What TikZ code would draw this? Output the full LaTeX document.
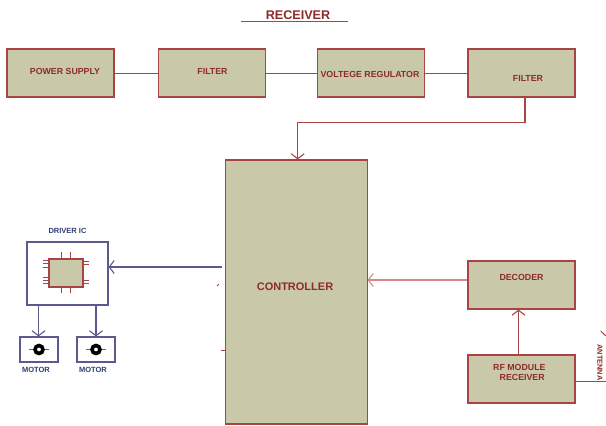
\documentclass[tikz,border=0pt]{standalone}
\usepackage{fontspec}
\setmainfont{Liberation Sans}
\usetikzlibrary{arrows.meta, positioning, calc}
\definecolor{blkfill}{HTML}{C9C9A9}
\definecolor{blkline}{HTML}{A84444}
\definecolor{txtred}{HTML}{8E2A2A}
\definecolor{pinkline}{HTML}{D08A8A}
\definecolor{navyline}{HTML}{5A5A8E}
\definecolor{navytxt}{HTML}{2F3F70}
\tikzset{
  blk/.style={draw=blkline, fill=blkfill, line width=1.1pt, minimum width=#1, minimum height=48pt, inner sep=0pt},
  blk/.default=107pt,
  txt/.style={text=txtred, font=\bfseries\fontsize{8.8}{10}\selectfont, inner sep=0pt, align=center},
  navytext/.style={text=navytxt, font=\bfseries\fontsize{7.5}{8}\selectfont, inner sep=0pt},
  whitebox/.style={draw=navyline, fill=white, line width=1.1pt, inner sep=0pt},
  arr/.style={-{Straight Barb[length=5pt,width=13pt]}, line width=1.1pt},
  wire/.style={draw=blkline, line width=1pt},
  pin/.style={draw=blkline, line width=1pt},
}
\begin{document}
\begin{tikzpicture}[x=1pt,y=-1pt]
  \useasboundingbox (0,0) rectangle (606,426);
  % title
  \node[txt, font=\bfseries\fontsize{12.6}{14}\selectfont] (title) at (298,15.5) {RECEIVER};
  \coordinate (ulinea) at (241,21);
  \coordinate (ulineb) at (348,21);
  \draw[wire] (ulinea) -- (ulineb);
  % top row
  \node[blk] (power) at (60.5,73) {};
  \node[blk] (filterone) at (212,73) {};
  \node[blk] (regulator) at (371,73) {};
  \node[blk] (filtertwo) at (521.5,73) {};
  \node[txt] (powertxt) at (65,71.5) {POWER SUPPLY};
  \node[txt] (filteronetxt) at (212.5,71.5) {FILTER};
  \node[txt] (regulatortxt) at (370,74) {VOLTEGE REGULATOR};
  \node[txt] (filtertwotxt) at (528,78) {FILTER};
  \draw[wire] (power) -- (filterone);
  \draw[wire] (filterone) -- (regulator);
  \draw[wire] (regulator) -- (filtertwo);
  % controller
  \node[blk=141.5pt, minimum height=264pt] (controller) at (296.3,292) {};
  \node[txt, font=\bfseries\fontsize{11}{12}\selectfont] (controllertxt) at (295,287) {CONTROLLER};
  \coordinate (ctrlout) at (222,267);
  \coordinate (stuba) at (221,350);
  \coordinate (ticka) at (217,286);
  \coordinate (tickb) at (219,284);
  \draw[wire] (stuba) -- (stuba -| controller.west);
  \draw[wire] (ticka) -- (tickb);
  \draw[wire, arr] ([xshift=3.5pt]filtertwo.south) |- ([xshift=1.4pt,yshift=37pt]controller.north) -- ([xshift=1.4pt]controller.north);
  % right side
  \node[blk] (decoder) at (521.5,285) {};
  \node[blk] (rfmodule) at (521.5,379) {};
  \node[txt] (decodertxt) at (521.5,277) {DECODER};
  \node[txt, anchor=west] (rftxt) at (493,367) {RF MODULE};
  \node[txt, anchor=west] (rftxtb) at (499.5,377.5) {RECEIVER};
  \coordinate (decout) at ([yshift=5pt]decoder.west);
  \draw[draw=pinkline, arr] (decout) -- (decout -| controller.east);
  \draw[wire, arr] ([xshift=-3pt]rfmodule.north) -- ([xshift=-3pt]decoder.south);
  \coordinate (antend) at (606,381);
  \coordinate (anttipa) at (600.7,331);
  \coordinate (anttipb) at (606,336);
  \draw[wire] (rfmodule.east |- antend) -- (antend);
  \draw[wire] (anttipa) -- (anttipb);
  \node[txt, font=\bfseries\fontsize{7.4}{8}\selectfont, rotate=-90] (antenna) at (600,362.5) {ANTENNA};
  % driver ic
  \node[whitebox, minimum width=81pt, minimum height=63pt] (driver) at (67.5,273.5) {};
  \node[navytext] (drivertxt) at (67.5,230.5) {DRIVER IC};
  \draw[navyline, arr] (ctrlout) -- (driver.east |- ctrlout);
  \foreach \x in {61,70}{
    \draw[pin] (\x,252) -- (\x,259);
    \draw[pin] (\x,287) -- (\x,293);
  }
  \foreach \y in {260,263,267,277,280,283}{
    \draw[pin, line width=0.7pt] (43,\y) -- (49,\y);
  }
  \foreach \y in {261,264,280,283}{
    \draw[pin, line width=0.7pt] (83,\y) -- (89,\y);
  }
  \node[draw=blkline, fill=blkfill, line width=1.2pt, minimum width=34pt, minimum height=28pt, inner sep=0pt] (chip) at (66,273) {};
  % motors
  \node[whitebox, minimum width=38pt, minimum height=25pt] (motorone) at (39,349.5) {};
  \node[whitebox, minimum width=38pt, minimum height=25pt] (motortwo) at (96,349.5) {};
  \foreach \m in {motorone,motortwo}{
    \draw[pin] ([xshift=-10pt]\m.center) -- ([xshift=10pt]\m.center);
    \node[draw=black, line width=3.6pt, fill=white, circle, minimum size=8pt, inner sep=0pt] at (\m.center) {};
  }
  \node[navytext] (motoronetxt) at (36,370) {MOTOR};
  \node[navytext] (motortwotxt) at (93,370) {MOTOR};
  \draw[navyline, arr] ([xshift=-29pt]driver.south) -- ([xshift=-0.5pt]motorone.north);
  \draw[navyline, arr] ([xshift=28.5pt]driver.south) -- (motortwo.north);
\end{tikzpicture}
\end{document}
